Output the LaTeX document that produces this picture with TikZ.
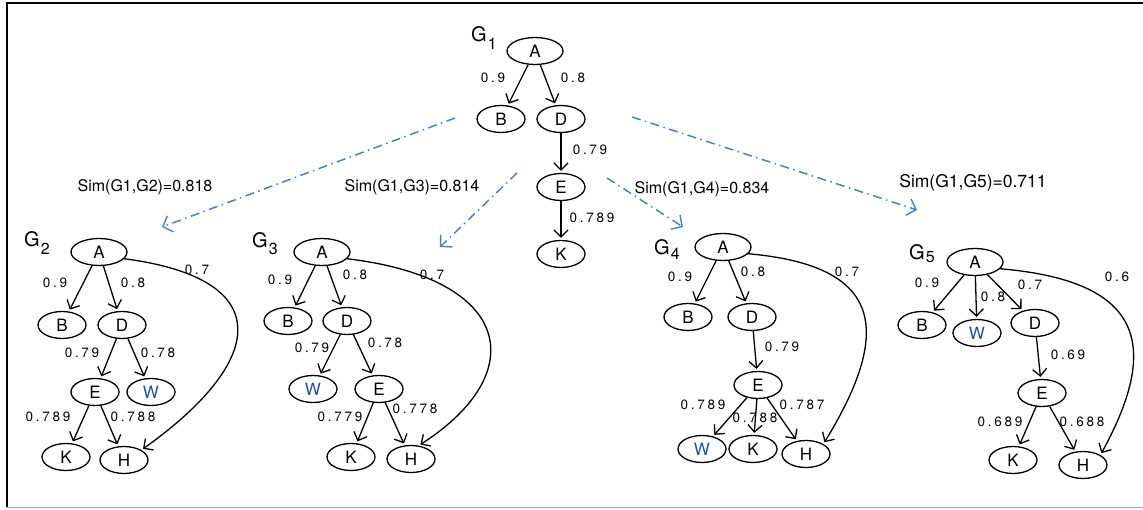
\documentclass[tikz,border=0pt]{standalone}
\usepackage{fontspec}
\setmainfont{TeX Gyre Heros}
\newfontfamily\wtfont[LetterSpace=20]{TeX Gyre Heros}
\usetikzlibrary{shapes.geometric,arrows.meta}
\definecolor{simblue}{RGB}{72,130,196}
\definecolor{wblue}{RGB}{35,80,165}
\newcommand\glab[2]{G\kern1pt\raisebox{-#2}{\fontsize{16}{16}\selectfont #1}}

\begin{document}
\begin{tikzpicture}[
    x=1pt, y=-1pt,
    vtx/.style={ellipse, draw, line width=1.3pt, minimum width=48pt,
        minimum height=27pt, inner sep=0pt, font=\fontsize{17}{17}\selectfont},
    root/.style={vtx, minimum width=56pt},
    newv/.style={text=wblue},
    edg/.style={-{Straight Barb[length=7pt,width=14pt,line width=1.3pt]},
        line width=1.3pt, shorten >=2pt},
    wt/.style={font=\wtfont\fontsize{13.5}{13.5}\selectfont, inner sep=0pt},
    glabel/.style={anchor=base west, inner sep=0pt, font=\fontsize{20}{20}\selectfont},
    sim/.style={font=\fontsize{16}{16}\selectfont, inner sep=0pt},
    simarrow/.style={simblue, line width=1.5pt,
        dash pattern=on 9pt off 4.5pt on 1.5pt off 4.5pt,
        -{Straight Barb[length=8pt,width=17pt,line width=1.4pt]}}]
    \useasboundingbox (0,0) rectangle (1143,510);
    % Marco.
    \draw[line width=2pt] (7,507) -- (7,3.5) -- (1143,3.5);
    \draw[gray!70, line width=0.8pt] (7,507) -- (1143,507);

    % Grafo G1.
    \node[glabel] (g1) at (471,42) {\glab{1}{8pt}};
    \node[root] (a1) at (535,51) {A};
    \node[vtx] (b1) at (501,119) {B};
    \node[vtx] (d1) at (561,119) {D};
    \node[vtx] (e1) at (561,187) {E};
    \node[vtx] (k1) at (561,254) {K};
    \foreach \s/\t in {a1/b1, a1/d1, d1/e1, e1/k1}
        \draw[edg] (\s) -- (\t);
    \node[wt] (w1ab) at (493,78) {0.9};
    \node[wt] (w1ad) at (573,78) {0.8};
    \node[wt] (w1de) at (590,150) {0.79};
    \node[wt] (w1ek) at (592,218) {0.789};

    % Grafo G2.
    \node[glabel] (g2) at (24,247) {\glab{2}{8pt}};
    \node[root] (a2) at (99,252) {A};
    \node[vtx] (b2) at (62,325) {B};
    \node[vtx] (d2) at (122,325) {D};
    \node[vtx] (e2) at (95,392) {E};
    \node[vtx, newv] (w2) at (151,392) {W};
    \node[vtx] (k2) at (66,457) {K};
    \node[vtx] (h2) at (124,460) {H};
    \foreach \s/\t in {a2/b2, a2/d2, d2/e2, d2/w2, e2/k2, e2/h2}
        \draw[edg] (\s) -- (\t);
    \draw[edg] (a2.-15) .. controls +(154,20) and +(125,-89) .. (h2.north east);
    \node[wt] (w2ab) at (55,283) {0.9};
    \node[wt] (w2ad) at (133,283) {0.8};
    \node[wt] (w2ah) at (197,270) {0.7};
    \node[wt] (w2de) at (82,353) {0.79};
    \node[wt] (w2dw) at (158,353) {0.78};
    \node[wt] (w2ek) at (48,417) {0.789};
    \node[wt] (w2eh) at (133,417) {0.788};

    % Grafo G3.
    \node[glabel] (g3) at (252,248) {\glab{3}{7pt}};
    \node[root] (a3) at (322,252) {A};
    \node[vtx] (b3) at (288,321) {B};
    \node[vtx] (d3) at (347,321) {D};
    \node[vtx, newv] (w3) at (313,389) {W};
    \node[vtx] (e3) at (379,389) {E};
    \node[vtx] (k3) at (351,457) {K};
    \node[vtx] (h3) at (411,459) {H};
    \foreach \s/\t in {a3/b3, a3/d3, d3/w3, d3/e3, e3/k3, e3/h3}
        \draw[edg] (\s) -- (\t);
    \draw[edg] (a3.-15) .. controls +(167,20) and +(112,-72) .. (h3.60);
    \node[wt] (w3ab) at (280,280) {0.9};
    \node[wt] (w3ad) at (355,275) {0.8};
    \node[wt] (w3ah) at (432,275) {0.7};
    \node[wt] (w3dw) at (312,348) {0.79};
    \node[wt] (w3de) at (385,343) {0.78};
    \node[wt] (w3ek) at (340,417) {0.779};
    \node[wt] (w3eh) at (415,409) {0.778};

    % Grafo G4.
    \node[glabel] (g4) at (654,255) {\glab{4}{5pt}};
    \node[root] (a4) at (723,247) {A};
    \node[vtx] (b4) at (688,317) {B};
    \node[vtx] (d4) at (752,317) {D};
    \node[vtx] (e4) at (758,385) {E};
    \node[vtx, newv] (w4) at (702,449) {W};
    \node[vtx] (k4) at (753,449) {K};
    \node[vtx] (h4) at (806,454) {H};
    \foreach \s/\t in {a4/b4, a4/d4, d4/e4, e4/w4, e4/k4, e4/h4}
        \draw[edg] (\s) -- (\t);
    \draw[edg] (a4.-15) .. controls +(136,12) and +(69,-113) .. (h4.north east);
    \node[wt] (w4ab) at (680,277) {0.9};
    \node[wt] (w4ad) at (753,272) {0.8};
    \node[wt] (w4ah) at (847,272) {0.7};
    \node[wt] (w4de) at (782,347) {0.79};
    \node[wt] (w4ew) at (703,405) {0.789};
    \node[wt] (w4ek) at (755,418) {0.788};
    \node[wt] (w4eh) at (802,405) {0.787};

    % Grafo G5.
    \node[glabel] (g5) at (909,260) {\glab{5}{3pt}};
    \node[root] (a5) at (975,262) {A};
    \node[vtx] (b5) at (922,325) {B};
    \node[vtx, newv] (w5) at (977,333) {W};
    \node[vtx] (d5) at (1035,323) {D};
    \node[vtx] (e5) at (1042,393) {E};
    \node[vtx] (k5) at (1013,460) {K};
    \node[vtx] (h5) at (1083,465) {H};
    \foreach \s/\t in {a5/b5, a5/w5, a5/d5, d5/e5, e5/k5, e5/h5}
        \draw[edg] (\s) -- (\t);
    \draw[edg] (a5.-15) .. controls +(140,12) and +(62,-113) .. (h5.north east);
    \node[wt] (w5ab) at (927,283) {0.9};
    \node[wt] (w5aw) at (993,297) {0.8};
    \node[wt] (w5ad) at (1030,285) {0.7};
    \node[wt] (w5ah) at (1117,277) {0.6};
    \node[wt] (w5de) at (1068,355) {0.69};
    \node[wt] (w5ek) at (1000,422) {0.689};
    \node[wt] (w5eh) at (1082,422) {0.688};

    % Similitudes.
    \coordinate (s2a) at (455,118);
    \coordinate (s2b) at (162,227);
    \coordinate (s3a) at (517,173);
    \coordinate (s3b) at (440,247);
    \coordinate (s4a) at (607,178);
    \coordinate (s4b) at (683,227);
    \coordinate (s5a) at (632,117);
    \coordinate (s5b) at (917,210);
    \foreach \i in {2,...,5}
        \draw[simarrow] (s\i a) -- (s\i b);
    \node[sim] (sim2) at (145,187) {Sim(G1,G2)=0.818};
    \node[sim] (sim3) at (412,187) {Sim(G1,G3)=0.814};
    \node[sim] (sim4) at (702,189) {Sim(G1,G4)=0.834};
    \node[sim, font=\fontsize{17.5}{17.5}\selectfont] (sim5) at (973,183) {Sim(G1,G5)=0.711};
\end{tikzpicture}
\end{document}
